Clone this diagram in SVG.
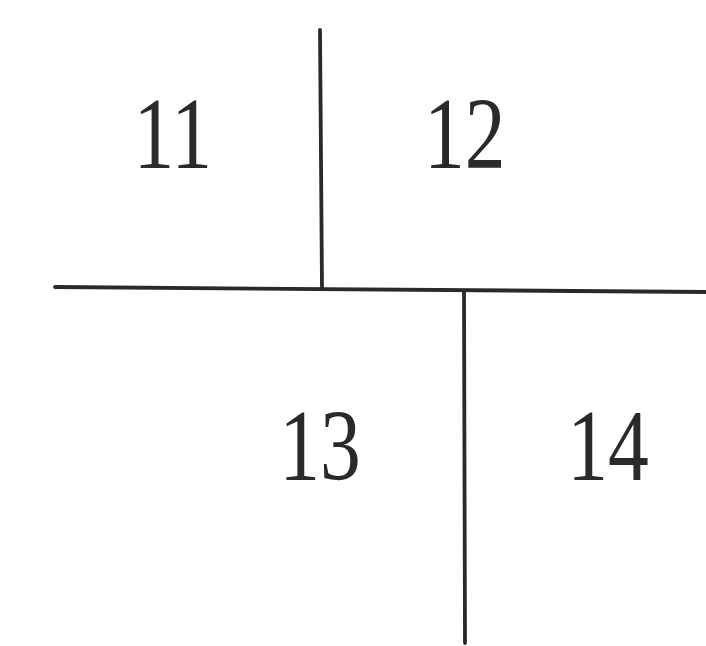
<svg xmlns="http://www.w3.org/2000/svg" width="706" height="646" viewBox="0 0 706 646">
<style>
.ln{stroke:#2a2a2a;stroke-width:3.8;fill:none;stroke-linecap:round}
.lb{font-family:"Liberation Serif","Times New Roman",serif;font-size:102px;fill:#2a2a2a}
</style>
<rect width="706" height="646" fill="#fff"/>
<g id="connectors">
<path class="ln" d="M320 30 L322 288"/>
<path class="ln" d="M55 287 L706 292"/>
<path class="ln" d="M464 291 L465 643"/>
</g>
<g transform="scale(0.8,1)">
<g id="n11"><text class="lb" x="167" y="168">11</text></g>
<g id="n12"><text class="lb" x="530" y="168">12</text></g>
<g id="n13"><text class="lb" x="349" y="480">13</text></g>
<g id="n14"><text class="lb" x="709" y="480">14</text></g>
</g>
</svg>
